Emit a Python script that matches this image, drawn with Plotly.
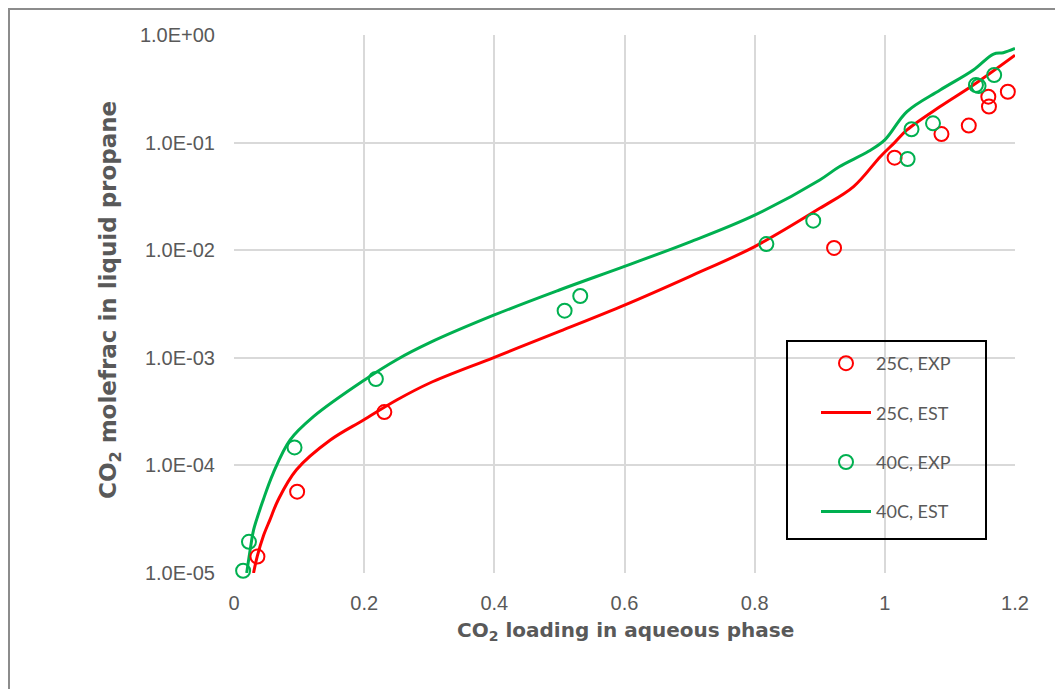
import plotly.graph_objects as go

# ---- data ----
exp25_x = [0.036, 0.097, 0.231, 0.922, 1.015, 1.087, 1.129, 1.159, 1.160, 1.189]
exp25_y = [1.42e-5, 5.7e-5, 3.13e-4, 1.05e-2, 7.24e-2, 1.20e-1, 1.44e-1, 2.67e-1, 2.16e-1, 2.97e-1]

est25_x = [0.030, 0.036, 0.045, 0.055, 0.068, 0.096, 0.148, 0.199, 0.25, 0.30, 0.40, 0.50,
           0.60, 0.70, 0.80, 0.90, 0.952, 0.993, 1.015, 1.034, 1.085, 1.136, 1.20]
est25_y = [1.0e-5, 1.45e-5, 2.2e-5, 3.1e-5, 4.8e-5, 9.1e-5, 1.72e-4, 2.64e-4, 4.05e-4, 5.8e-4,
           1.01e-3, 1.76e-3, 3.09e-3, 5.69e-3, 1.08e-2, 2.45e-2, 3.9e-2, 7.4e-2, 1.0e-1, 1.31e-1,
           2.16e-1, 3.43e-1, 6.5e-1]

exp40_x = [0.014, 0.023, 0.093, 0.218, 0.508, 0.532, 0.818, 0.890, 1.035, 1.041, 1.074, 1.140, 1.144, 1.168]
exp40_y = [1.05e-5, 1.95e-5, 1.47e-4, 6.35e-4, 2.74e-3, 3.75e-3, 1.14e-2, 1.88e-2, 7.04e-2, 1.33e-1,
           1.51e-1, 3.43e-1, 3.36e-1, 4.25e-1]

est40_x = [0.0195, 0.0256, 0.030, 0.045, 0.060, 0.086, 0.122, 0.20, 0.25, 0.30, 0.40, 0.50, 0.60,
           0.70, 0.80, 0.90, 0.93, 0.975, 1.0, 1.034, 1.085, 1.136, 1.167, 1.182, 1.20]
est40_y = [1.0e-5, 1.75e-5, 2.5e-5, 4.8e-5, 8.4e-5, 1.72e-4, 2.84e-4, 6.2e-4, 9.6e-4, 1.375e-3,
           2.5e-3, 4.27e-3, 7.08e-3, 1.19e-2, 2.12e-2, 4.5e-2, 5.97e-2, 8.3e-2, 1.06e-1, 1.94e-1,
           3.08e-1, 4.73e-1, 6.65e-1, 6.85e-1, 7.5e-1]

x_ticks = [0, 0.2, 0.4, 0.6, 0.8, 1.0, 1.2]
x_labels = ["0", "0.2", "0.4", "0.6", "0.8", "1", "1.2"]
y_ticks = [1e-5, 1e-4, 1e-3, 1e-2, 1e-1, 1]
y_labels = ["1.0E-05", "1.0E-04", "1.0E-03", "1.0E-02", "1.0E-01", "1.0E+00"]

RED = "#FF0000"
GREEN = "#00B050"
GRAY = "#595959"

# page has an 8px body margin; figure is sized so the plot area lands where the reference has it
OFF = 8
W, H = 1063 - OFF, 689 - OFF
L, R, T, B = 234 - OFF, 48, 35 - OFF, 116
PW, PH = W - L - R, H - T - B

def px2paper_x(px):  # px given in page (reference) coordinates
    return (px - OFF - L) / PW

def px2paper_y(py):
    return (H - B - (py - OFF)) / PH

fig = go.Figure()
fig.add_trace(go.Scatter(x=est25_x, y=est25_y, mode="lines", name="25C, EST",
                         line=dict(color=RED, width=3, shape="spline", smoothing=1.0),
                         legendgroup="b", legendrank=2))
fig.add_trace(go.Scatter(x=est40_x, y=est40_y, mode="lines", name="40C, EST",
                         line=dict(color=GREEN, width=3, shape="spline", smoothing=1.0),
                         legendgroup="d", legendrank=4))
fig.add_trace(go.Scatter(x=exp25_x, y=exp25_y, mode="markers", name="25C, EXP",
                         marker=dict(symbol="circle-open", size=14, color=RED, line=dict(width=2, color=RED)),
                         cliponaxis=False, legendgroup="a", legendrank=1))
fig.add_trace(go.Scatter(x=exp40_x, y=exp40_y, mode="markers", name="40C, EXP",
                         marker=dict(symbol="circle-open", size=14, color=GREEN, line=dict(width=2, color=GREEN)),
                         cliponaxis=False, legendgroup="c", legendrank=3))

fig.update_layout(
    width=W, height=H,
    margin=dict(l=L, r=R, t=T, b=B, autoexpand=False),
    paper_bgcolor="white", plot_bgcolor="white",
    showlegend=True,
    legend=dict(x=px2paper_x(816), y=px2paper_y(345), xanchor="left", yanchor="top",
                bgcolor="rgba(0,0,0,0)", borderwidth=0, itemwidth=50,
                tracegroupgap=23, font=dict(family="Lato", size=18, color=GRAY),
                traceorder="grouped"),
    xaxis=dict(range=[0, 1.2], tickvals=x_ticks, ticktext=x_labels, showgrid=True,
               gridcolor="#D9D9D9", gridwidth=1.5, zeroline=False, showline=False,
               tickfont=dict(family="Liberation Sans, Arial", size=20, color=GRAY),
               ticks="", ticklabelstandoff=16),
    yaxis=dict(type="log", range=[-5, 0], tickvals=y_ticks, ticktext=y_labels, showgrid=True,
               gridcolor="#D9D9D9", gridwidth=1.5, zeroline=False, showline=False,
               tickfont=dict(family="Liberation Sans, Arial", size=20, color=GRAY),
               ticks="", ticklabelstandoff=18),
    annotations=[
        dict(text="CO<sub>2</sub> loading in aqueous phase", xref="paper", yref="paper",
             x=px2paper_x(625), y=px2paper_y(631), xanchor="center", yanchor="middle",
             showarrow=False, font=dict(family="DejaVu Sans", size=20, color=GRAY, weight="bold")),
        dict(text="CO<sub>2</sub> molefrac in liquid propane", xref="paper", yref="paper",
             x=px2paper_x(110), y=px2paper_y(300), xanchor="center", yanchor="middle",
             textangle=-90, showarrow=False,
             font=dict(family="DejaVu Sans", size=23, color=GRAY, weight="bold")),
    ],
    shapes=[
        # legend frame
        dict(type="rect", xref="paper", yref="paper",
             x0=px2paper_x(787), x1=px2paper_x(986), y0=px2paper_y(539), y1=px2paper_y(341),
             line=dict(color="black", width=2), fillcolor="rgba(0,0,0,0)", layer="above"),
        # outer figure frame (left and top edges)
        dict(type="line", xref="paper", yref="paper",
             x0=px2paper_x(9), x1=px2paper_x(9), y0=px2paper_y(8), y1=px2paper_y(700),
             line=dict(color="#8C8C8C", width=2)),
        dict(type="line", xref="paper", yref="paper",
             x0=px2paper_x(8), x1=px2paper_x(1075), y0=px2paper_y(9), y1=px2paper_y(9),
             line=dict(color="#8C8C8C", width=2)),
    ],
)

fig.write_html("out.html")
